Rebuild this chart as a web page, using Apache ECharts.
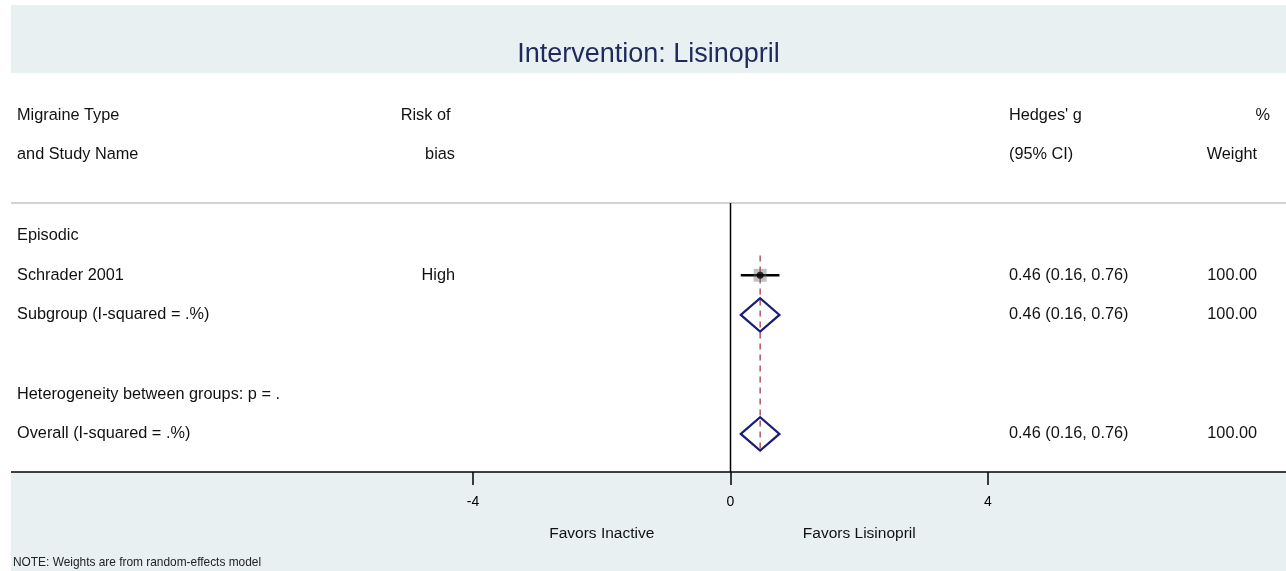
<!DOCTYPE html>
<html><head><meta charset="utf-8">
<script src="https://cdn.jsdelivr.net/npm/echarts@6/dist/echarts.min.js"></script>
<style>
html,body{margin:0;padding:0;background:#fff;width:1286px;height:571px;overflow:hidden}
#c{position:absolute;left:11px;top:5px;width:1275px;height:566px}
</style></head>
<body><div id="c"></div>
<script>
// ---- data ----
const titleText = 'Intervention: Lisinopril';
const noteText = 'NOTE: Weights are from random-effects model';
const headerStudy = ['Migraine Type', 'and Study Name'];
const headerRisk = ['Risk of ', 'bias'];
const headerEffect = ["Hedges' g", '(95% CI)'];
const headerWeight = ['%', 'Weight'];
const rowLabels = ['Episodic', 'Schrader 2001', 'Subgroup (I-squared = .%)', 'Heterogeneity between groups: p = .', 'Overall (I-squared = .%)'];
const rowKinds = ['group', 'study', 'pooled', 'note', 'pooled'];
const rowSlots = [1, 2, 3, 5, 6];
const riskOfBias = ['', 'High', '', '', ''];
const effect = [null, 0.46, 0.46, null, 0.46];
const ciLow = [null, 0.16, 0.16, null, 0.16];
const ciHigh = [null, 0.76, 0.76, null, 0.76];
const weightPct = [null, 100, 100, null, 100];
const overallEffect = 0.46;
const axisTicks = [-4, 0, 4];
const favorPositions = [-2, 2];
const favorLabels = ['Favors Inactive', 'Favors Lisinopril'];

// ---- layout ----
const X_MIN = -11.177, X_MAX = 8.629;
const Y_MIN = -3.10, Y_MAX = 6.96;
const HEADER_ROWS = [-2.03, -1.05];
const SEP_ROW = 0.18;
const COL_STUDY = -11.083, COL_RISK = -4.28, COL_EFFECT = 4.326, COL_WEIGHT = 8.18, COL_PCT = 8.38;
const FONT = '"Liberation Sans", Arial, Helvetica, sans-serif';

const texts = [];
HEADER_ROWS.forEach((r, i) => {
  texts.push({x: COL_STUDY, y: r, text: headerStudy[i], align: 'left'});
  texts.push({x: COL_RISK, y: r, text: headerRisk[i], align: 'right'});
  texts.push({x: COL_EFFECT, y: r, text: headerEffect[i], align: 'left'});
  texts.push({x: i === 0 ? COL_PCT : COL_WEIGHT, y: r, text: headerWeight[i], align: 'right'});
});
rowLabels.forEach((lab, i) => {
  const r = rowSlots[i];
  texts.push({x: COL_STUDY, y: r, text: lab, align: 'left'});
  if (riskOfBias[i]) texts.push({x: COL_RISK, y: r, text: riskOfBias[i], align: 'right'});
  if (effect[i] != null) {
    texts.push({x: COL_EFFECT, y: r, text: effect[i].toFixed(2) + ' (' + ciLow[i].toFixed(2) + ', ' + ciHigh[i].toFixed(2) + ')', align: 'left'});
    texts.push({x: COL_WEIGHT, y: r, text: weightPct[i].toFixed(2), align: 'right'});
  }
});

const studyIdx = rowKinds.map((k, i) => k === 'study' ? i : -1).filter(i => i >= 0);
const pooledIdx = rowKinds.map((k, i) => k === 'pooled' ? i : -1).filter(i => i >= 0);

const series = [];
// separator line
series.push({type: 'line', data: [[X_MIN, SEP_ROW], [X_MAX, SEP_ROW]], symbol: 'none', silent: true,
  lineStyle: {color: '#c4c4c4', width: 1.5}, z: 1});
// zero line
series.push({type: 'line', data: [[0, SEP_ROW], [0, Y_MAX]], symbol: 'none', silent: true,
  lineStyle: {color: '#000', width: 1.5}, z: 2});
// overall dashed line
series.push({type: 'line', data: [[overallEffect, rowSlots[studyIdx[0]] - 0.5], [overallEffect, rowSlots[rowSlots.length - 1] + 0.5]],
  symbol: 'none', silent: true, lineStyle: {color: '#8e1a2e', width: 1.1, type: [6, 5]}, z: 3});
// study CI lines
studyIdx.forEach(i => {
  series.push({type: 'line', data: [[ciLow[i], rowSlots[i]], [ciHigh[i], rowSlots[i]]], symbol: 'none', silent: true,
    lineStyle: {color: '#000', width: 2.5}, z: 4});
});
// weight boxes
series.push({type: 'scatter', data: studyIdx.map(i => [effect[i], rowSlots[i]]), symbol: 'rect', symbolSize: 13,
  itemStyle: {color: 'rgba(100,100,100,0.5)'}, silent: true, z: 5});
// point estimate dots
series.push({type: 'scatter', data: studyIdx.map(i => [effect[i], rowSlots[i]]), symbol: 'circle', symbolSize: 7,
  itemStyle: {color: '#000'}, silent: true, z: 6});
// diamonds
series.push({type: 'custom', silent: true, z: 7,
  data: pooledIdx.map(i => [effect[i], rowSlots[i], ciLow[i], ciHigh[i]]),
  renderItem: function (params, api) {
    const e = api.value(0), r = api.value(1), lo = api.value(2), hi = api.value(3);
    const h = 0.42;
    const pts = [api.coord([lo, r]), api.coord([e, r - h]), api.coord([hi, r]), api.coord([e, r + h])];
    return {type: 'polygon', shape: {points: pts}, style: {fill: 'none', stroke: '#1a1a7a', lineWidth: 2.2}};
  }
});
// texts
series.push({type: 'custom', silent: true, z: 8,
  data: texts.map(t => [t.x, t.y]),
  renderItem: function (params, api) {
    const t = texts[params.dataIndex];
    const p = api.coord([api.value(0), api.value(1)]);
    return {type: 'text', x: p[0], y: p[1], style: {text: t.text, fill: '#111', font: '16.3px ' + FONT, align: t.align, verticalAlign: 'middle'}};
  }
});

const chart = echarts.init(document.getElementById('c'), null, {renderer: 'canvas'});
chart.setOption({
  animation: false,
  backgroundColor: '#e8f0f2',
  title: [
    {text: titleText, left: 'center', top: 31, textStyle: {fontFamily: FONT, fontSize: 27, fontWeight: 'normal', color: '#1f2a5c'}},
    {text: noteText, left: 2, top: 552, padding: 0, textStyle: {fontFamily: FONT, fontSize: 11.9, fontWeight: 'normal', color: '#222'}}
  ],
  grid: {left: 0, right: 0, top: 68, bottom: 99, show: true, backgroundColor: '#fff', borderWidth: 0, containLabel: false},
  xAxis: [
    {type: 'value', min: X_MIN, max: X_MAX, position: 'bottom',
      axisLine: {show: true, onZero: false, lineStyle: {color: '#000', width: 1.5}},
      axisTick: {show: true, customValues: axisTicks, length: 13, lineStyle: {color: '#000', width: 1.5}},
      axisLabel: {show: true, customValues: axisTicks, margin: 23, fontSize: 14, fontFamily: FONT, color: '#000'},
      splitLine: {show: false}},
    {type: 'value', min: X_MIN, max: X_MAX, position: 'bottom',
      axisLine: {show: false}, axisTick: {show: false}, splitLine: {show: false},
      axisLabel: {show: true, customValues: favorPositions, margin: 54, fontSize: 15.5, fontFamily: FONT, color: '#111',
        formatter: v => favorLabels[favorPositions.indexOf(v)]}}
  ],
  yAxis: {type: 'value', inverse: true, min: Y_MIN, max: Y_MAX, show: false, splitLine: {show: false}},
  series: series
});
</script>
</body></html>
